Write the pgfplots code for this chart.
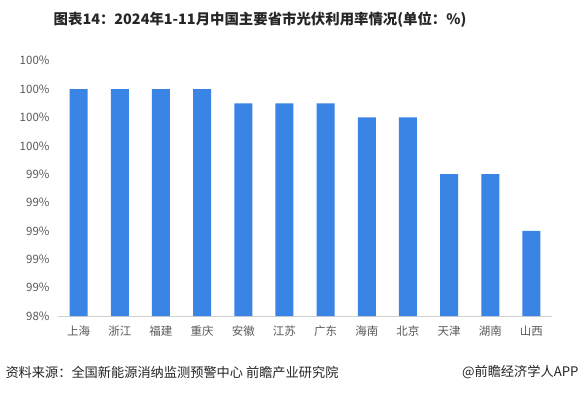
\documentclass[border=0pt]{standalone}
\usepackage{fontspec}
\setmainfont{Noto Sans CJK SC}
\usepackage{pgfplots}
\pgfplotsset{compat=1.18}
\definecolor{barblue}{HTML}{3A84E6}
\definecolor{ticklab}{HTML}{595959}
\begin{document}
\begin{tikzpicture}[x=1bp,y=1bp]
\path[use as bounding box,fill=white] (0,0) rectangle (582,394);
\begin{axis}[
  at={(58bp,78bp)}, anchor=south west,
  scale only axis, width=494bp, height=255.3bp,
  xmin=-0.5, xmax=11.5, ymin=98.4, ymax=100.2,
  axis x line*=bottom, axis y line*=left,
  x axis line style={draw=black!18, line width=0.8pt, -},
  y axis line style={draw=none, -},
  xtick={0,...,11}, major tick length=0pt,
  xticklabels={上海,浙江,福建,重庆,安徽,江苏,广东,海南,北京,天津,湖南,山西},
  ytick={98.4,98.6,98.8,99.0,99.2,99.4,99.6,99.8,100.0,100.2},
  yticklabels={98\%,99\%,99\%,99\%,99\%,99\%,100\%,100\%,100\%,100\%},
  ticklabel style={font=\fontsize{11.5bp}{12bp}\selectfont, text=ticklab},
  x tick label style={yshift=-6bp},
  y tick label style={xshift=-5bp},
  clip=false,
]
\addplot[ybar, bar width=18bp, fill=barblue, draw=none] coordinates {
 (0,100.0) (1,100.0) (2,100.0) (3,100.0) (4,99.9) (5,99.9)
 (6,99.9) (7,99.8) (8,99.8) (9,99.4) (10,99.4) (11,99.0)};
\end{axis}
\node[font=\fontsize{14.4bp}{16bp}\selectfont\bfseries, text=black!85] at (260,374) {图表14：2024年1-11月中国主要省市光伏利用率情况(单位：\%)};
\node[anchor=west, font=\fontsize{13.2bp}{14bp}\selectfont, text=black!85] at (2,22) {资料来源：全国新能源消纳监测预警中心 前瞻产业研究院};
\node[anchor=east, font=\fontsize{13.2bp}{14bp}\selectfont, text=black!85] at (582,22) {@前瞻经济学人APP};
\end{tikzpicture}
\end{document}
